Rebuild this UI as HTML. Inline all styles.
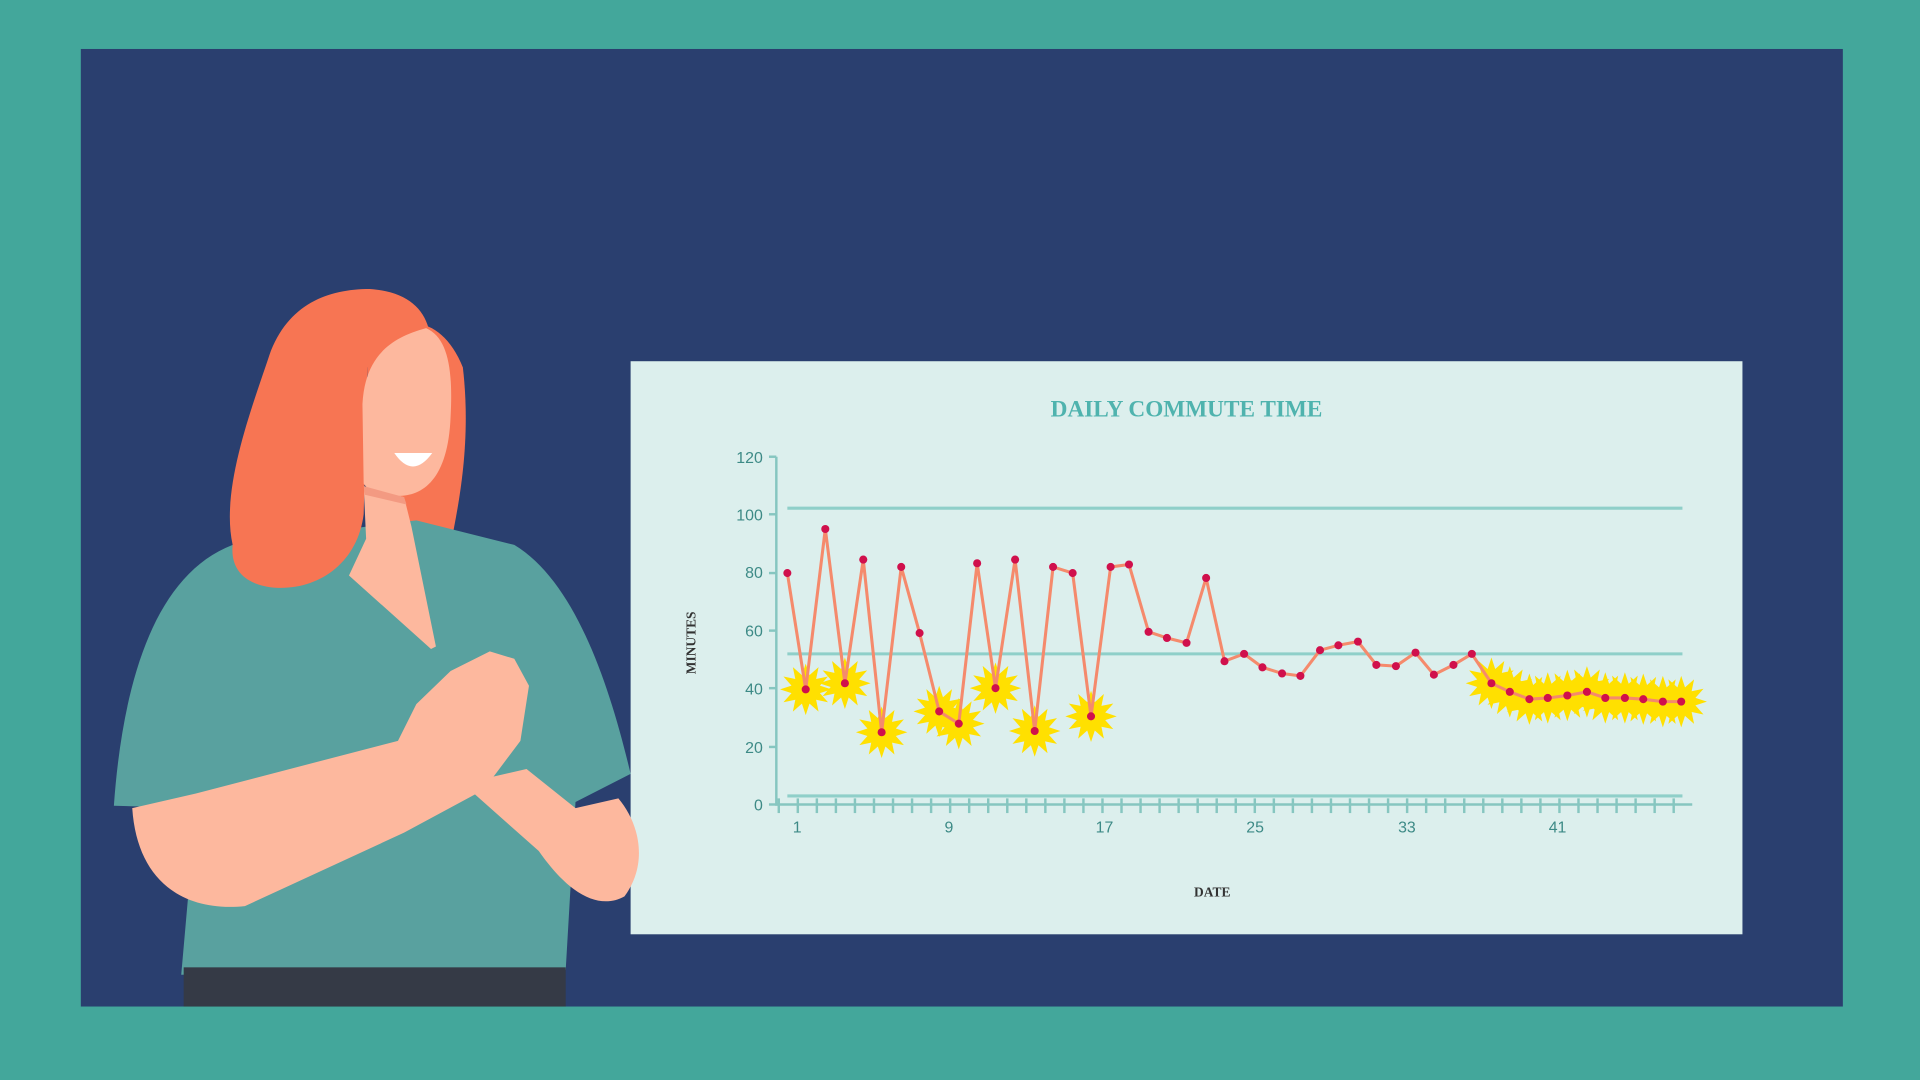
<!DOCTYPE html>
<html><head><meta charset="utf-8"><style>html,body{margin:0;padding:0;background:#43a79b;overflow:hidden}svg{display:block}</style></head>
<body>
<svg id="s" width="1920" height="1080" viewBox="0 0 1568 882" xmlns="http://www.w3.org/2000/svg">
<rect width="1568" height="882" fill="#43a79b"/>
<rect x="66" y="40" width="1439" height="782" fill="#2a3f6f"/>
<rect x="515" y="295" width="908" height="468" fill="#dcefed"/>
<text x="969" y="340" text-anchor="middle" font-family="Liberation Serif, serif" font-weight="bold" font-size="19" fill="#4fb3ae">DAILY COMMUTE TIME</text>
<g stroke="#8fcfc9" stroke-width="2.5" fill="none">
<line x1="643" y1="415" x2="1374" y2="415"/>
<line x1="643" y1="534" x2="1374" y2="534"/>
<line x1="643" y1="650" x2="1374" y2="650"/>
</g>
<g id="axes" stroke="#86c6c0" stroke-width="2" fill="none">
<line x1="634" y1="373" x2="634" y2="658"/>
<line x1="634" y1="657" x2="1382" y2="657"/>
</g>
<g font-family="Liberation Sans, sans-serif" font-size="13" fill="#3d8a86" text-anchor="end">
<text x="623" y="378">120</text><text x="623" y="425">100</text><text x="623" y="472">80</text>
<text x="623" y="520">60</text><text x="623" y="567">40</text><text x="623" y="615">20</text><text x="623" y="662">0</text>
</g>
<g font-family="Liberation Sans, sans-serif" font-size="13" fill="#3d8a86" text-anchor="middle">
<text x="651" y="680">1</text><text x="775" y="680">9</text><text x="902" y="680">17</text>
<text x="1025" y="680">25</text><text x="1149" y="680">33</text><text x="1272" y="680">41</text>
</g>
<text x="990" y="732" text-anchor="middle" font-family="Liberation Serif, serif" font-weight="bold" font-size="11" fill="#333">DATE</text>
<text transform="translate(568,525) rotate(-90)" text-anchor="middle" font-family="Liberation Serif, serif" font-weight="bold" font-size="11" fill="#333">MINUTES</text>
<g id="stars" fill="#ffe000"></g>
<polyline id="ln" fill="none" stroke="#f58a6c" stroke-width="2.5" stroke-linejoin="round"/>
<g id="dots" fill="#d0104c"></g>
<!-- woman -->
<path d="M300,300 C320,250 360,255 378,300 C385,360 375,410 368,445 L300,445 Z" fill="#f77553"/>
<path d="M93,658 C100,560 125,470 190,445 L300,430 L340,425 L420,445 C470,475 498,560 515,632 L470,655 L462,792 L148,796 L160,660 Z" fill="#59a19f"/>
<rect x="150" y="790" width="312" height="32" fill="#353a46"/>
<path d="M297,397 L330,406 L336,430 L356,528 L352,530 L285,470 L299,440 Z" fill="#fdb89e"/>
<path d="M190,445 C180,400 205,335 220,290 C235,248 268,236 302,236 C330,238 345,250 350,268 L300,300 L297,420 C292,460 260,482 225,480 C200,478 188,465 190,445 Z" fill="#f77553"/>
<path d="M296,330 C298,292 318,276 348,268 C366,276 370,302 368,340 C366,392 345,405 325,405 C310,405 300,400 297,395 Z" fill="#fdb89e"/>
<path d="M297,397 L330,406 L332,412 L298,404 Z" fill="#f39a82"/>
<path d="M322,370 Q337,392 353,370 Z" fill="#fff"/>
<path d="M108,660 C112,720 150,745 200,740 L330,680 L395,645 L425,605 L432,560 L420,538 L400,532 L368,548 L340,575 L325,605 L160,648 Z" fill="#fdb89e"/>
<path d="M378,640 L440,695 C468,735 492,742 510,732 C530,705 522,672 505,652 L470,660 L430,628 Z" fill="#fdb89e"/>
</svg>
<script>
var pts=[[643,468],[658,563],[674,432],[690,558],[705,457],[720,598],[736,463],[751,517],[767,581],[783,591],[798,460],[813,562],[829,457],[845,597],[860,463],[876,468],[891,585],[907,463],[922,461],[938,516],[953,521],[969,525],[985,472],[1000,540],[1016,534],[1031,545],[1047,550],[1062,552],[1078,531],[1093,527],[1109,524],[1124,543],[1140,544],[1156,533],[1171,551],[1187,543],[1202,534],[1218,558],[1233,565],[1249,571],[1264,570],[1280,568],[1296,565],[1311,570],[1327,570],[1342,571],[1358,573],[1373,573]];
var NS="http://www.w3.org/2000/svg";
document.getElementById('ln').setAttribute('points',pts.map(function(p){return p.join(',')}).join(' '));
var dots=document.getElementById('dots'),stars=document.getElementById('stars');
pts.forEach(function(p){var c=document.createElementNS(NS,'circle');c.setAttribute('cx',p[0]);c.setAttribute('cy',p[1]);c.setAttribute('r',3.3);dots.appendChild(c);});
var si=[1,3,5,8,9,11,13,16];for(var i=37;i<48;i++)si.push(i);
si.forEach(function(i){var p=pts[i],s='';for(var k=0;k<24;k++){var r=k%2?12:21,a=k*Math.PI/12;s+=(p[0]+r*Math.sin(a)).toFixed(1)+','+(p[1]-r*Math.cos(a)).toFixed(1)+' ';}
var g=document.createElementNS(NS,'polygon');g.setAttribute('points',s);stars.appendChild(g);});
var ax=document.getElementById('axes');
for(var x=636;x<=1382;x+=15.55){var l=document.createElementNS(NS,'line');l.setAttribute('x1',x);l.setAttribute('x2',x);l.setAttribute('y1',652);l.setAttribute('y2',664);ax.appendChild(l);}
[373,420,468,515,562,610,657].forEach(function(y){var l=document.createElementNS(NS,'line');l.setAttribute('x1',628);l.setAttribute('x2',634);l.setAttribute('y1',y);l.setAttribute('y2',y);ax.appendChild(l);});
</script>
</body></html>
